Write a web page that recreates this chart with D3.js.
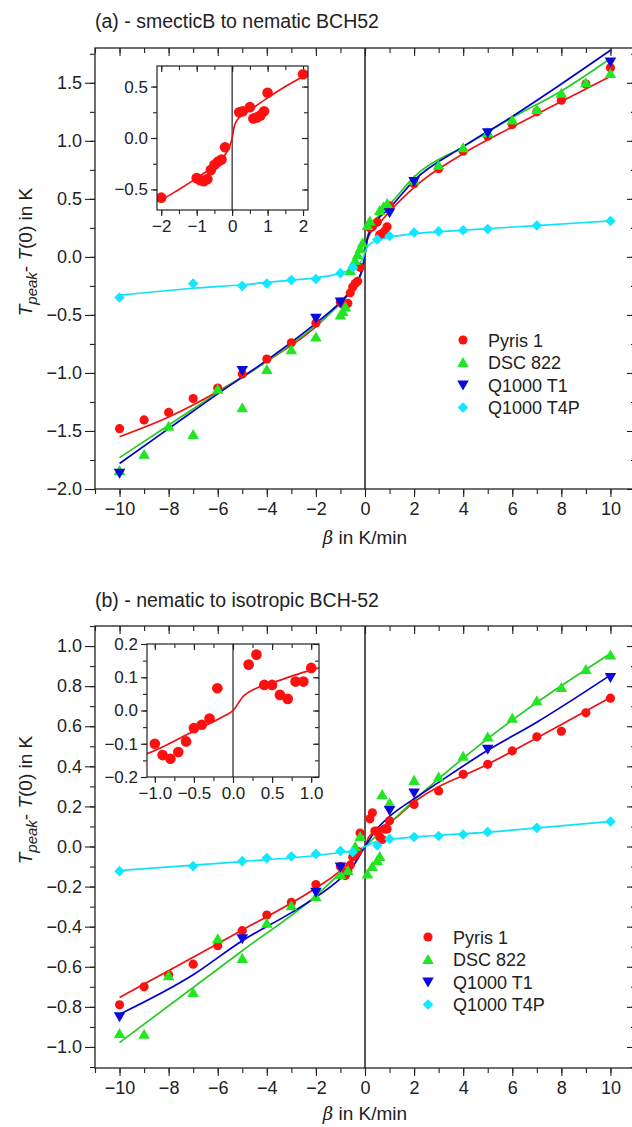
<!DOCTYPE html>
<html><head><meta charset="utf-8">
<script src="https://cdn.jsdelivr.net/npm/d3@7"></script>
<style>
body{margin:0;background:#fff;}
text{font-family:"Liberation Sans",Arial,sans-serif;fill:#222;}
</style></head>
<body><svg id="c" width="632" height="1127"></svg>
<script>
// ---------- Panel (a) data: smecticB to nematic ----------
const a_pyris_x = [-10,-9,-8,-7,-6,-5,-4,-3,-2,-1,-0.9,-0.8,-0.7,-0.6,-0.5,-0.4,-0.3,-0.2,0.2,0.3,0.5,0.6,0.7,0.8,0.9,1,2,3,4,5,6,7,8,9,10];
const a_pyris_y = [-1.48,-1.405,-1.34,-1.22,-1.13,-1.01,-0.88,-0.74,-0.57,-0.39,-0.41,-0.42,-0.40,-0.31,-0.26,-0.23,-0.21,-0.09,0.25,0.26,0.30,0.19,0.20,0.22,0.26,0.44,0.63,0.76,0.91,1.04,1.14,1.25,1.35,1.49,1.63];
const a_dsc_x = [-10,-9,-8,-7,-6,-5,-4,-3,-2,-1,-0.9,-0.8,-0.6,-0.5,-0.4,-0.3,-0.2,-0.1,0.1,0.2,0.6,0.75,0.9,2,3,4,5,6,7,8,9,10];
const a_dsc_y = [-1.84,-1.70,-1.46,-1.53,-1.14,-1.30,-0.97,-0.80,-0.69,-0.50,-0.47,-0.43,-0.12,-0.07,-0.03,0.02,0.07,0.12,0.27,0.31,0.40,0.43,0.46,0.66,0.79,0.94,1.07,1.18,1.27,1.41,1.50,1.58];
const a_t1_x = [-10,-5,-2,-1,1,2,5,10];
const a_t1_y = [-1.865,-0.98,-0.53,-0.39,0.38,0.65,1.07,1.68];
const a_t4p_x = [-10,-7,-5,-4,-3,-2,-1,-0.5,0.5,1,2,3,4,5,7,10];
const a_t4p_y = [-0.35,-0.23,-0.25,-0.23,-0.20,-0.19,-0.14,-0.09,0.15,0.18,0.21,0.22,0.23,0.24,0.27,0.31];
// fitted curves
const a_pyris_fit_x = [-10,-8,-6,-4,-2,-1.5,-1,-0.5,-0.3,-0.1,-0.05,0,0.05,0.1,0.2,0.5,1,1.5,2,4,6,8,10];
const a_pyris_fit_y = [-1.55,-1.38,-1.16,-0.90,-0.60,-0.50,-0.39,-0.27,-0.21,-0.10,-0.06,0.0,0.10,0.15,0.20,0.27,0.39,0.50,0.60,0.89,1.12,1.34,1.555];
const a_dsc_fit_x = [-10,-8,-6,-4,-2,-1,-0.5,-0.2,-0.1,0,0.1,0.2,0.5,1,2,4,6,8,10];
const a_dsc_fit_y = [-1.73,-1.45,-1.17,-0.90,-0.59,-0.40,-0.28,-0.17,-0.10,0.03,0.17,0.24,0.34,0.45,0.69,0.95,1.20,1.43,1.71];
const a_t1_fit_x = [-10,-8,-6,-4,-2,-1,-0.5,-0.2,-0.1,0,0.1,0.2,0.5,1,2,4,6,8,10];
const a_t1_fit_y = [-1.78,-1.48,-1.18,-0.89,-0.57,-0.39,-0.27,-0.16,-0.10,0.03,0.16,0.22,0.32,0.42,0.66,0.95,1.21,1.49,1.78];
const a_t4p_fit_x = [-10,-7,-5,-3,-2,-1,-0.5,-0.2,-0.1,0,0.1,0.2,0.5,1,2,4,7,10];
const a_t4p_fit_y = [-0.33,-0.27,-0.24,-0.20,-0.18,-0.14,-0.10,-0.05,-0.02,0.04,0.09,0.11,0.14,0.17,0.20,0.23,0.27,0.31];
// inset (a): Pyris 1 near zero
const a_in_x = [-2,-1,-0.9,-0.8,-0.7,-0.6,-0.5,-0.4,-0.3,-0.2,0.2,0.3,0.5,0.6,0.7,0.8,0.9,1,2];
const a_in_y = [-0.58,-0.39,-0.41,-0.42,-0.40,-0.31,-0.26,-0.23,-0.21,-0.09,0.25,0.26,0.30,0.19,0.20,0.22,0.26,0.44,0.62];
const a_in_fit_x = [-2.2,-2,-1.5,-1,-0.5,-0.3,-0.1,-0.05,0,0.05,0.1,0.2,0.5,1,1.5,2,2.2];
const a_in_fit_y = [-0.63,-0.60,-0.50,-0.39,-0.27,-0.21,-0.10,-0.06,0.0,0.10,0.15,0.20,0.27,0.39,0.50,0.60,0.64];

// ---------- Panel (b) data: nematic to isotropic ----------
const b_pyris_x = [-10,-9,-8,-7,-6,-5,-4,-3,-2,-1,-0.9,-0.8,-0.7,-0.6,-0.5,-0.4,-0.3,-0.2,0.2,0.3,0.4,0.5,0.6,0.7,0.8,0.9,1,2,3,4,5,6,7,8,9,10];
const b_pyris_y = [-0.79,-0.70,-0.64,-0.587,-0.495,-0.42,-0.342,-0.278,-0.19,-0.10,-0.134,-0.145,-0.125,-0.093,-0.053,-0.043,-0.024,0.067,0.138,0.168,0.077,0.077,0.047,0.035,0.087,0.087,0.128,0.21,0.277,0.36,0.41,0.477,0.547,0.575,0.667,0.74];
const b_dsc_x = [-10,-9,-8,-7,-6,-5,-4,-3,-2,-1,-0.7,-0.4,-0.2,0.1,0.3,0.5,0.6,0.7,1,2,3,4,5,6,7,8,9,10];
const b_dsc_y = [-0.933,-0.937,-0.645,-0.728,-0.46,-0.558,-0.383,-0.295,-0.25,-0.14,-0.12,0.0,0.05,-0.137,-0.10,-0.07,-0.05,0.26,0.217,0.33,0.347,0.45,0.547,0.64,0.727,0.793,0.883,0.955];
const b_t1_x = [-10,-5,-2,-1,1,2,5,10];
const b_t1_y = [-0.85,-0.46,-0.228,-0.103,0.18,0.267,0.485,0.843];
const b_t4p_x = [-10,-7,-5,-4,-3,-2,-1,-0.5,0.5,1,2,3,4,5,7,10];
const b_t4p_y = [-0.123,-0.098,-0.073,-0.058,-0.05,-0.037,-0.023,-0.028,0.005,0.038,0.047,0.052,0.06,0.072,0.093,0.125];
const b_pyris_fit_x = [-10,-5,-2,-1.1,-0.6,-0.3,-0.13,0,0.13,0.3,0.55,0.8,1.1,2,5,10];
const b_pyris_fit_y = [-0.753,-0.417,-0.207,-0.13,-0.074,-0.039,-0.019,0.0,0.042,0.067,0.087,0.107,0.128,0.222,0.41,0.743];
const b_dsc_fit_x = [-10,-5,-2,-1,0,1,2,5,10];
const b_dsc_fit_y = [-0.978,-0.52,-0.245,-0.13,0.0,0.115,0.23,0.538,0.963];
const b_t1_fit_x = [-10,-7,-5,-3,-2,-1,-0.5,0,0.5,1,2,3,5,7,10];
const b_t1_fit_y = [-0.837,-0.64,-0.47,-0.33,-0.253,-0.16,-0.10,0.0,0.09,0.15,0.238,0.32,0.48,0.62,0.855];
const b_t4p_fit_x = [-10,-5,-2,-1,-0.3,0,0.3,1,2,5,10];
const b_t4p_fit_y = [-0.12,-0.075,-0.045,-0.03,-0.018,0.0,0.018,0.035,0.047,0.072,0.125];
const b_in_x = [-1,-0.9,-0.8,-0.7,-0.6,-0.5,-0.4,-0.3,-0.2,0.2,0.3,0.4,0.5,0.6,0.7,0.8,0.9,1];
const b_in_y = [-0.10,-0.134,-0.145,-0.125,-0.093,-0.053,-0.043,-0.024,0.067,0.138,0.168,0.077,0.077,0.047,0.035,0.087,0.087,0.128];
const b_in_fit_x = [-1.15,-1.1,-0.6,-0.3,-0.13,0,0.13,0.3,0.55,0.8,1.1,1.15];
const b_in_fit_y = [-0.134,-0.13,-0.074,-0.039,-0.019,0.0,0.042,0.067,0.087,0.107,0.128,0.131];

// ---------- labels ----------
const seriesNames = ["Pyris 1","DSC 822","Q1000 T1","Q1000 T4P"];
const xTicks = [-10,-8,-6,-4,-2,0,2,4,6,8,10];
const a_yTicks = [-2.0,-1.5,-1.0,-0.5,0.0,0.5,1.0,1.5];
const b_yTicks = [-1.0,-0.8,-0.6,-0.4,-0.2,0.0,0.2,0.4,0.6,0.8,1.0];
const a_in_xTicks = [-2,-1,0,1,2];
const a_in_yTicks = [-0.5,0.0,0.5];
const b_in_xTicks = [-1.0,-0.5,0.0,0.5,1.0];
const b_in_yTicks = [-0.2,-0.1,0.0,0.1,0.2];
const titles = ["(a) - smecticB to nematic BCH52","(b) - nematic to isotropic BCH-52"];

const colors = ["#ff1010","#22e622","#0a0adc","#10e8ff"];
const lineColors = ["#ee1111","#22cc22","#0000cc","#10e0f8"];

const svg = d3.select("#c");
const zip = (xs,ys)=>xs.map((x,i)=>({x, y:ys[i]}));
const symCircle = d3.symbol().type(d3.symbolCircle);
const symTri = d3.symbol().type(d3.symbolTriangle);
const symSq = d3.symbol().type(d3.symbolSquare);
function marker(sel, k, s){
  // k: series index, s: scale factor
  if(k===0) return sel.attr("d", symCircle.size(66*s)());
  if(k===1) return sel.attr("d", symTri.size(58*s)());
  if(k===2) return sel.attr("d", symTri.size(58*s)()).attr("data-rot","180");
  return sel.attr("d", symSq.size(56*s)()).attr("data-rot","45");
}
function drawMarkers(g, pts, k, x, y, s){
  g.selectAll(null).data(pts).join("path")
    .each(function(d){
      const p = d3.select(this);
      marker(p,k,s);
      const rot = p.attr("data-rot")||0;
      const dy = (k===1)? 1.2 : (k===2? -1.2:0);
      p.attr("transform",`translate(${x(d.x)},${y(d.y)+dy}) rotate(${rot})`);
    })
    .attr("fill", colors[k]);
}
function fmt1(v){ return d3.format(".1f")(v); }

function addTicks(g, scale, orient, major, minor, lenMaj, lenMin, pos, labels, fmt, fs, pad){
  // generic tick drawer using d3 axis
  const mk = (vals, len, lab)=>{
    let ax;
    if(orient==="left") ax=d3.axisLeft(scale);
    else if(orient==="right") ax=d3.axisRight(scale);
    else if(orient==="top") ax=d3.axisTop(scale);
    else ax=d3.axisBottom(scale);
    ax.tickValues(vals).tickSizeInner(len).tickSizeOuter(0).tickPadding(pad||4)
      .tickFormat(lab? fmt : ()=>"");
    const gg = g.append("g").attr("transform", (orient==="left"||orient==="right")?`translate(${pos},0)`:`translate(0,${pos})`).call(ax);
    gg.select(".domain").remove();
    gg.selectAll("line").attr("stroke","#222").attr("stroke-width",1.1);
    gg.selectAll("text").attr("font-size",fs).attr("fill","#222").attr("font-family","Liberation Sans, Arial, sans-serif");
  };
  mk(minor, lenMin, false);
  mk(major, lenMaj, labels);
}

function panel(cfg){
  const g = svg.append("g");
  const x = d3.scaleLinear().domain([-11,11]).range([95,635]);
  const y = d3.scaleLinear().domain(cfg.yDom).range([cfg.bottom, cfg.top]);
  const clipId = "clip"+cfg.id;
  svg.append("clipPath").attr("id",clipId).append("rect")
    .attr("x",95).attr("y",cfg.top).attr("width",540).attr("height",cfg.bottom-cfg.top);
  // title
  g.append("text").attr("x",95).attr("y",cfg.titleY).attr("font-size",19.5).text(cfg.title);
  // frame
  g.append("rect").attr("x",95).attr("y",cfg.top).attr("width",540).attr("height",cfg.bottom-cfg.top)
    .attr("fill","none").attr("stroke","#222").attr("stroke-width",1.3);
  // zero line
  g.append("line").attr("x1",x(0)).attr("x2",x(0)).attr("y1",cfg.top).attr("y2",cfg.bottom)
    .attr("stroke","#222").attr("stroke-width",1.5);
  const xMinor = d3.range(-11,12,1);
  addTicks(g,x,"bottom",xTicks,xMinor,8,5,cfg.bottom,true,d3.format("d"),18,5);
  addTicks(g,x,"top",xTicks,xMinor,-8,-5,cfg.top,false);
  addTicks(g,y,"left",cfg.yTicks,cfg.yMinor,10,5,95,true,fmt1,18,3);
  addTicks(g,y,"right",cfg.yTicks,cfg.yMinor,-8,-4,635,false);
  // axis labels
  const xl = g.append("text").attr("x",x(0)).attr("y",cfg.xLabY).attr("text-anchor","middle").attr("font-size",19);
  xl.append("tspan").attr("font-style","italic").attr("font-family","DejaVu Serif, serif").attr("font-size",18).text("β");
  xl.append("tspan").text(" in K/min");
  const yl = g.append("text").attr("transform",`translate(${cfg.yLabX},${cfg.yLabY}) rotate(-90)`)
    .attr("text-anchor","middle").attr("font-size",19);
  yl.append("tspan").attr("font-style","italic").text("T");
  yl.append("tspan").attr("font-style","italic").attr("font-size",15).attr("dy",5).text("peak");
  yl.append("tspan").attr("dy",-5).text("- ");
  yl.append("tspan").attr("font-style","italic").text("T");
  yl.append("tspan").text("(0) in K");
  // series
  const line = d3.line().x(d=>x(d.x)).y(d=>y(d.y)).curve(d3.curveMonotoneX);
  const plot = g.append("g").attr("clip-path",`url(#${clipId})`);
  cfg.series.forEach((s,k)=>{
    plot.append("path").datum(zip(s.fx,s.fy)).attr("d",line).attr("fill","none")
      .attr("stroke",lineColors[k]).attr("stroke-width",1.7);
  });
  cfg.series.forEach((s,k)=>{
    drawMarkers(plot, zip(s.x,s.y), k, x, y, 1);
  });
  // legend
  seriesNames.forEach((n,k)=>{
    const ly = cfg.legY + k*22.5;
    const m = g.append("path").attr("fill",colors[k]);
    marker(m,k,1);
    const dy = (k===1)? 1.2 : (k===2? -1.2:0);
    m.attr("transform",`translate(${cfg.legX},${ly+dy}) rotate(${m.attr("data-rot")||0})`);
    g.append("text").attr("x",cfg.legX+25).attr("y",ly+6.5).attr("font-size",18).text(n);
  });
  // inset
  const ins = cfg.inset;
  const ix = d3.scaleLinear().domain(ins.xDom).range([ins.left, ins.right]);
  const iy = d3.scaleLinear().domain(ins.yDom).range([ins.bottom, ins.top]);
  const ig = g.append("g");
  ig.append("rect").attr("x",ins.left).attr("y",ins.top).attr("width",ins.right-ins.left).attr("height",ins.bottom-ins.top)
    .attr("fill","#fff");
  const icid = "iclip"+cfg.id;
  svg.append("clipPath").attr("id",icid).append("rect").attr("x",ins.left).attr("y",ins.top)
    .attr("width",ins.right-ins.left).attr("height",ins.bottom-ins.top);
  ig.append("line").attr("x1",ix(0)).attr("x2",ix(0)).attr("y1",ins.top).attr("y2",ins.bottom)
    .attr("stroke","#222").attr("stroke-width",1.2);
  addTicks(ig,ix,"bottom",ins.xTicks,ins.xMinor,6,4,ins.bottom,true,ins.xFmt,17,4);
  addTicks(ig,ix,"top",ins.xTicks,ins.xMinor,-6,-4,ins.top,false);
  addTicks(ig,iy,"left",ins.yTicks,ins.yMinor,6,4,ins.left,true,fmt1,17,3);
  addTicks(ig,iy,"right",ins.yTicks,ins.yMinor,-6,-4,ins.right,false);
  const il = d3.line().x(d=>ix(d.x)).y(d=>iy(d.y)).curve(d3.curveMonotoneX);
  const ip = ig.append("g").attr("clip-path",`url(#${icid})`);
  ip.append("path").datum(zip(ins.fx,ins.fy)).attr("d",il).attr("fill","none")
    .attr("stroke",lineColors[0]).attr("stroke-width",1.7);
  drawMarkers(ip, zip(ins.x,ins.y), 0, ix, iy, 1.35);
  ig.append("rect").attr("x",ins.left).attr("y",ins.top).attr("width",ins.right-ins.left).attr("height",ins.bottom-ins.top)
    .attr("fill","none").attr("stroke","#222").attr("stroke-width",1.2);
}

panel({
  id:"a", title:titles[0], titleY:28, top:48, bottom:489, yDom:[-2.0,1.8],
  yTicks:a_yTicks, yMinor:d3.range(-2.0,1.8,0.25), xLabY:544, yLabX:32, yLabY:252,
  legX:463, legY:340,
  series:[
    {x:a_pyris_x,y:a_pyris_y,fx:a_pyris_fit_x,fy:a_pyris_fit_y},
    {x:a_dsc_x,y:a_dsc_y,fx:a_dsc_fit_x,fy:a_dsc_fit_y},
    {x:a_t1_x,y:a_t1_y,fx:a_t1_fit_x,fy:a_t1_fit_y},
    {x:a_t4p_x,y:a_t4p_y,fx:a_t4p_fit_x,fy:a_t4p_fit_y}],
  inset:{left:157,right:308,top:66,bottom:210,xDom:[-2.12,2.14],yDom:[-0.7,0.7],
    xTicks:a_in_xTicks,xMinor:d3.range(-2,2.01,0.5),yTicks:a_in_yTicks,yMinor:d3.range(-0.5,0.51,0.25),
    xFmt:d3.format("d"),x:a_in_x,y:a_in_y,fx:a_in_fit_x,fy:a_in_fit_y}
});
panel({
  id:"b", title:titles[1], titleY:607, top:626, bottom:1068, yDom:[-1.105,1.1],
  yTicks:b_yTicks, yMinor:d3.range(-1.1,1.11,0.1).map(v=>+v.toFixed(2)), xLabY:1120, yLabX:32, yLabY:800,
  legX:428, legY:937,
  series:[
    {x:b_pyris_x,y:b_pyris_y,fx:b_pyris_fit_x,fy:b_pyris_fit_y},
    {x:b_dsc_x,y:b_dsc_y,fx:b_dsc_fit_x,fy:b_dsc_fit_y},
    {x:b_t1_x,y:b_t1_y,fx:b_t1_fit_x,fy:b_t1_fit_y},
    {x:b_t4p_x,y:b_t4p_y,fx:b_t4p_fit_x,fy:b_t4p_fit_y}],
  inset:{left:147,right:319,top:644,bottom:777,xDom:[-1.1,1.1],yDom:[-0.2,0.2],
    xTicks:b_in_xTicks,xMinor:d3.range(-1,1.01,0.25),yTicks:b_in_yTicks,yMinor:d3.range(-0.2,0.201,0.05),
    xFmt:d3.format(".1f"),x:b_in_x,y:b_in_y,fx:b_in_fit_x,fy:b_in_fit_y}
});
</script></body></html>
